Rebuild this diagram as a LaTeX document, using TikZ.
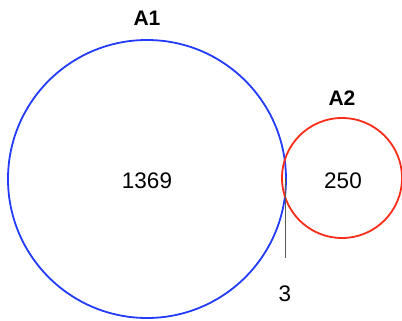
\documentclass[tikz,border=0pt]{standalone}
\usepackage{fontspec}
\setmainfont{Liberation Sans}
\usetikzlibrary{positioning}

\begin{document}
\begin{tikzpicture}[x=1pt, y=-1pt,
    setcircle/.style={draw, circle, line width=1.8pt, inner sep=0pt},
    count/.style={font=\fontsize{22.5}{26}\selectfont},
    setname/.style={font=\fontsize{21}{25}\selectfont\bfseries}]
    \useasboundingbox (0,0) rectangle (402,321);

    % The two sets
    \definecolor{setblue}{RGB}{35,60,250}
    \definecolor{setred}{RGB}{250,45,25}
    \node[setcircle, draw=setblue, minimum size=278pt] (a1) at (147,179) {};
    \node[setcircle, draw=setred, minimum size=120pt] (a2) at (342,178) {};

    % Set names
    \node[setname] (n1) at (147,18) {A1};
    \node[setname] (n2) at (342,98) {A2};

    % Counts
    \node[count] (c1) at (147,181) {1369};
    \node[count] (c2) at (343,181) {250};
    \node[count] (c3) at (285,294) {3};

    % Pointer to the overlap
    \coordinate (ov) at (285,178);
    \draw[gray!70!black, line width=0.9pt] (ov) -- (c3.north |- 0,258);
\end{tikzpicture}
\end{document}
